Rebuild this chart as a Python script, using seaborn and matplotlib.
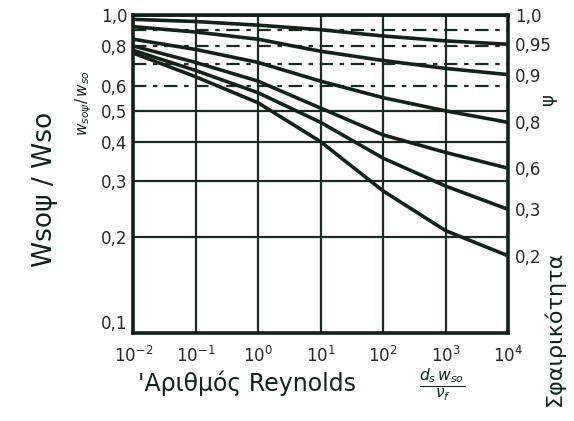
import numpy as np
import pandas as pd
import matplotlib
matplotlib.use("Agg")
import matplotlib.pyplot as plt
import seaborn as sns

# Reynolds number (decades) and read-off values of w_so_psi / w_so per sphericity
reynolds = [1e-2, 1e-1, 1e0, 1e1, 1e2, 1e3, 1e4]
psi_labels = ["0,95", "0,9", "0,8", "0,6", "0,3", "0,2"]
ratio_095 = [0.97, 0.955, 0.93, 0.90, 0.86, 0.83, 0.81]
ratio_09 = [0.92, 0.885, 0.84, 0.77, 0.72, 0.68, 0.65]
ratio_08 = [0.84, 0.78, 0.71, 0.62, 0.55, 0.50, 0.46]
ratio_06 = [0.80, 0.71, 0.62, 0.51, 0.42, 0.37, 0.33]
ratio_03 = [0.775, 0.67, 0.57, 0.46, 0.355, 0.29, 0.245]
ratio_02 = [0.76, 0.64, 0.53, 0.40, 0.28, 0.21, 0.175]

yticks = [0.1, 0.2, 0.3, 0.4, 0.5, 0.6, 0.8, 1.0]
ytick_labels = ["0,1", "0,2", "0,3", "0,4", "0,5", "0,6", "0,8", "1,0"]
xtick_labels = ["$10^{-2}$", "$10^{-1}$", "$10^{0}$", "$10^{1}$", "$10^{2}$", "$10^{3}$", "$10^{4}$"]
solid_hlines = [0.2, 0.3, 0.4, 0.5]
dashed_hlines = [0.6, 0.7, 0.8, 0.9]

series = [ratio_095, ratio_09, ratio_08, ratio_06, ratio_03, ratio_02]
frames = []
for lab, vals in zip(psi_labels, series):
    frames.append(pd.DataFrame({"Re": reynolds, "ratio": vals, "psi": lab}))
df = pd.concat(frames, ignore_index=True)

sns.set_style("white")
plt.rcParams["font.family"] = ["DejaVu Sans"]

fig = plt.figure(figsize=(5.74, 4.21), dpi=100)
ax = fig.add_axes([0.232, 0.209, 0.653, 0.755])

# grid
for xv in reynolds:
    ax.axvline(xv, color="#1a2a22", lw=1.6, zorder=1)
for yv in solid_hlines:
    ax.axhline(yv, color="#1a2a22", lw=1.6, zorder=1)
for yv in dashed_hlines:
    ax.axhline(yv, color="#1a2a22", lw=1.6, ls=(0, (6, 3, 2, 3)), zorder=1)

sns.lineplot(data=df, x="Re", y="ratio", hue="psi", palette={p: "#14211b" for p in psi_labels},
             lw=2.6, legend=False, estimator=None, sort=True, ax=ax, zorder=3)
ax.axhline(1.0, color="#14211b", lw=2.6, zorder=3)

ax.set_xscale("log")
ax.set_yscale("log")
ax.set_xlim(1e-2, 1e4)
ax.set_ylim(0.1, 1.0)
ax.set_xticks(reynolds)
ax.set_xticklabels(xtick_labels, fontsize=12)
ax.set_yticks(yticks)
ax.set_yticklabels(ytick_labels, fontsize=12)
ax.yaxis.set_minor_locator(matplotlib.ticker.NullLocator())
ax.xaxis.set_minor_locator(matplotlib.ticker.NullLocator())
ax.tick_params(axis="y", length=0, pad=4)
ax.tick_params(axis="x", length=0, pad=9)
ax.get_yticklabels()[0].set_va("bottom")
ax.set_xlabel("")
ax.set_ylabel("")
for sp in ax.spines.values():
    sp.set_visible(True)
    sp.set_linewidth(2.6)
    sp.set_color("#14211b")

# right-hand sphericity labels at curve ends
ax2 = ax.twinx()
ax2.set_yscale("log")
ax2.set_ylim(0.1, 1.0)
ends = [1.0] + [s[-1] for s in series]
ax2.set_yticks(ends)
ax2.set_yticklabels(["1,0"] + psi_labels, fontsize=12)
ax2.yaxis.set_minor_locator(matplotlib.ticker.NullLocator())
ax2.tick_params(length=0, pad=5)
for sp in ax2.spines.values():
    sp.set_visible(False)

fig.text(0.078, 0.55, "Wsoψ / Wso", rotation=90, fontsize=19, ha="center", va="center",
         color="#14211b")
fig.text(0.145, 0.755, "$w_{so\\psi}/\\,w_{so}$", rotation=90, fontsize=11, ha="center",
         va="center", color="#14211b")
fig.text(0.955, 0.765, "ψ", rotation=90, fontsize=13, ha="center", va="center",
         color="#14211b")
fig.text(0.965, 0.22, "Σφαιρικότητα", rotation=90, fontsize=16, ha="center", va="center",
         color="#14211b")
fig.text(0.43, 0.09, "'Αριθμός Reynolds", fontsize=17, ha="center", va="center",
         color="#14211b")
fig.text(0.77, 0.085, "$\\frac{d_s\\,w_{so}}{\\nu_f}$", fontsize=16, ha="center",
         va="center", color="#14211b")

fig.savefig("out.png", dpi=100, facecolor="white")
